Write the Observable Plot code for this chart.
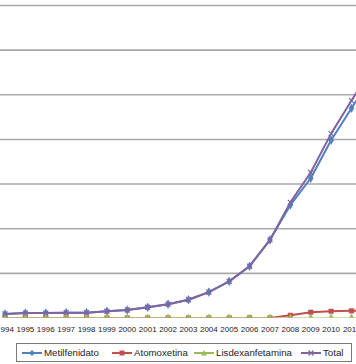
<!DOCTYPE html>
<html>
<head>
<meta charset="utf-8">
<script src="https://cdn.jsdelivr.net/npm/d3@7"></script>
<script src="https://cdn.jsdelivr.net/npm/@observablehq/plot@0.6"></script>
<style>
  body { margin: 0; background: #fff; font-family: Arial, "Liberation Sans", Helvetica, sans-serif; }
  #wrap { position: relative; width: 356px; height: 364px; overflow: hidden; }
  #legend { position: absolute; left: 16px; top: 343px; width: 336px; height: 19px; box-sizing: border-box;
            border: 1px solid #7a7a7a; font-size: 9.7px; color: #222; white-space: nowrap; }
  .item { position: absolute; top: 0; height: 17px; display: flex; align-items: center; gap: 2px; }
  .item svg { display: block; }
</style>
</head>
<body>
<div id="wrap"><div id="chart"></div><div id="legend"></div></div>
<script>
// Years (2012 lies beyond the visible right edge of the cropped chart)
const years = [1994,1995,1996,1997,1998,1999,2000,2001,2002,2003,2004,2005,2006,2007,2008,2009,2010,2011,2012];
const tickYears = [1994,1995,1996,1997,1998,1999,2000,2001,2002,2003,2004,2005,2006,2007,2008,2009,2010,2011];
// Values in gridline units (axis labels cropped away in the reference)
const metilfenidato    = [0.09,0.11,0.11,0.12,0.12,0.15,0.18,0.24,0.31,0.41,0.58,0.82,1.16,1.75,2.53,3.13,3.98,4.70,5.40];
const atomoxetina      = [0,0,0,0,0,0,0,0,0,0,0,0,0,0,0.06,0.13,0.15,0.16,0.17];
const lisdexanfetamina = [0,0,0,0,0,0,0,0,0,0,0,0,0,0,0,0,0,0,0];
const total            = [0.09,0.11,0.11,0.12,0.12,0.15,0.18,0.24,0.31,0.41,0.58,0.82,1.16,1.75,2.59,3.26,4.13,4.87,5.60];
const gridValues = [1,2,3,4,5,6,7];

const seriesNames = ["Metilfenidato","Atomoxetina","Lisdexanfetamina","Total"];
const seriesValues = [metilfenidato, atomoxetina, lisdexanfetamina, total];
const seriesColors = ["#4f81bd","#c0504d","#9bbb59","#8064a2"];
const seriesSymbols = ["diamond","square","triangle","times"];

const rows = [];
seriesNames.forEach((name, i) => {
  years.forEach((yr, j) => rows.push({series: name, year: yr, value: seriesValues[i][j]}));
});

const W = 356, H = 338;
const x0 = 4.5, step = (351 - 4.5) / 17;
const xDomain = [1994 - x0 / step, 1994 + (W - x0) / step];

const marks = [
  Plot.ruleY(gridValues, {stroke: "#a9a9a9", strokeWidth: 1.6}),
  Plot.axisX({ticks: tickYears, tickFormat: d => String(d), tickSize: 0, tickPadding: 8.5,
              fontSize: 8, fill: "#222", label: null})
];
seriesNames.forEach((name, i) => {
  const data = rows.filter(r => r.series === name);
  marks.push(Plot.line(data, {x: "year", y: "value", stroke: seriesColors[i], strokeWidth: 2, clip: true}));
  marks.push(Plot.dot(data, {x: "year", y: "value", symbol: () => seriesSymbols[i], r: i === 3 ? 2.4 : 2.6,
    fill: i === 3 ? "none" : seriesColors[i], stroke: seriesColors[i], strokeWidth: i === 3 ? 1.2 : 0.5, clip: true}));
});

const chart = Plot.plot({
  width: W, height: H,
  marginLeft: 0, marginRight: 0, marginTop: 5, marginBottom: 20.5,
  x: {type: "linear", domain: xDomain, axis: null},
  y: {domain: [0, 7], axis: null},
  style: {fontFamily: "Arial, 'Liberation Sans', Helvetica, sans-serif", background: "white", overflow: "visible"},
  marks
});
document.getElementById("chart").appendChild(chart);

// Legend (item left offsets inside the legend box, layout only)
const legendItemLeft = [5, 95, 177, 284];
const legend = document.getElementById("legend");
const shapes = {
  diamond: c => `<path d="M10,2 L13,5 L10,8 L7,5Z" fill="${c}"/>`,
  square: c => `<rect x="7.5" y="2.5" width="5" height="5" fill="${c}"/>`,
  triangle: c => `<path d="M10,2 L13,7.5 L7,7.5Z" fill="${c}"/>`,
  times: c => `<path d="M7.5,2.5 L12.5,7.5 M12.5,2.5 L7.5,7.5" stroke="${c}" stroke-width="1.2"/>`
};
seriesNames.forEach((name, i) => {
  const it = document.createElement("div");
  it.className = "item";
  it.style.left = legendItemLeft[i] + "px";
  it.innerHTML = `<svg width="20" height="10"><line x1="0" x2="20" y1="5" y2="5" stroke="${seriesColors[i]}" stroke-width="2"/>${shapes[seriesSymbols[i]](seriesColors[i])}</svg><span>${name}</span>`;
  legend.appendChild(it);
});
</script>
</body>
</html>
